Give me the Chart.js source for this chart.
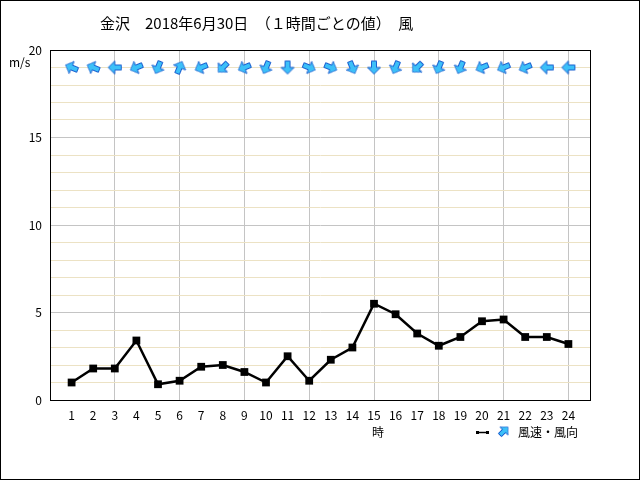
<!DOCTYPE html>
<html>
<head>
<meta charset="utf-8">
<script src="https://cdn.jsdelivr.net/npm/chart.js@4"></script>
<style>
  body { margin: 0; background: #fff; }
  #wrap { width: 640px; height: 480px; }
</style>
</head>
<body>
<div id="wrap"><canvas id="chart" width="640" height="480"></canvas></div>
<script>
// 金沢 2018/6/30 hourly wind
const hours = [1,2,3,4,5,6,7,8,9,10,11,12,13,14,15,16,17,18,19,20,21,22,23,24];
const windSpeed = [1.0,1.8,1.8,3.4,0.9,1.1,1.9,2.0,1.6,1.0,2.5,1.1,2.3,3.0,5.5,4.9,3.8,3.1,3.6,4.5,4.6,3.6,3.6,3.2];
const windDir = ['東南東','東南東','東','東北東','北北東','南南西','東北東','北東','東北東','北北東','北','西北西',
                 '西北西','北北西','北','北北東','北東','北北東','北北東','東北東','東北東','東北東','東','東'];
const yTicks = [0, 5, 10, 15, 20];
const arrowRow = 19;

const compass = ['北','北北東','北東','東北東','東','東南東','南東','南南東','南','南南西','南西','西南西','西','西北西','北西','北北西'];
const FONT = "'Noto Sans CJK JP', 'DejaVu Sans', sans-serif";

// arrow icon, drawn pointing up (north)
function makeArrow() {
  const c = document.createElement('canvas');
  c.width = 16; c.height = 16;
  const g = c.getContext('2d');
  g.beginPath();
  g.moveTo(8, 1.5);
  g.lineTo(14.5, 8);
  g.lineTo(10.5, 8);
  g.lineTo(10.5, 14.5);
  g.lineTo(5.5, 14.5);
  g.lineTo(5.5, 8);
  g.lineTo(1.5, 8);
  g.closePath();
  g.fillStyle = '#3cc0f8';
  g.fill();
  g.strokeStyle = '#1a5fd0';
  g.lineWidth = 1;
  g.stroke();
  return c;
}
const arrow = makeArrow();
// arrow points downwind
const rotations = windDir.map(d => (compass.indexOf(d) * 22.5 + 180) % 360);

const decor = {
  id: 'decor',
  afterDraw(chart) {
    const ctx = chart.ctx;
    const a = chart.chartArea;
    ctx.save();
    ctx.strokeStyle = '#000';
    ctx.lineWidth = 1;
    ctx.strokeRect(a.left + 0.5, a.top + 0.5, a.right - a.left, a.bottom - a.top);
    ctx.strokeRect(0.5, 0.5, 639, 479);

    ctx.fillStyle = '#000';
    ctx.textBaseline = 'middle';
    ctx.font = '15px ' + FONT;
    ctx.fillText('金沢　2018年6月30日　（１時間ごとの値）　風', 100, 23);
    ctx.font = '12px ' + FONT;
    ctx.fillText('m/s', 9, 62);
    ctx.fillText('時', 372, 432);
    ctx.fillText('風速・風向', 518, 432);

    // legend line sample
    ctx.beginPath();
    ctx.moveTo(477, 432.5);
    ctx.lineTo(488, 432.5);
    ctx.lineWidth = 1.5;
    ctx.stroke();
    ctx.fillRect(476, 431, 3, 3);
    ctx.fillRect(486, 431, 3, 3);
    ctx.translate(504, 431);
    ctx.rotate(Math.PI / 4);
    ctx.drawImage(arrow, -7, -7, 14, 14);
    ctx.restore();
  }
};

new Chart(document.getElementById('chart'), {
  type: 'line',
  data: {
    datasets: [{
      label: '風速',
      data: hours.map((h, i) => ({ x: h, y: windSpeed[i] })),
      borderColor: '#000',
      backgroundColor: '#000',
      borderWidth: 2.5,
      pointStyle: 'rect',
      pointRadius: 5.5,
      pointBorderWidth: 0,
      tension: 0
    }, {
      label: '風向',
      data: hours.map(h => ({ x: h, y: arrowRow })),
      showLine: false,
      pointStyle: arrow,
      pointRotation: rotations
    }]
  },
  plugins: [decor],
  options: {
    responsive: false,
    animation: false,
    layout: { padding: { top: 50, right: 50, left: 0, bottom: 0 } },
    plugins: { legend: { display: false }, tooltip: { enabled: false } },
    scales: {
      x: {
        type: 'linear',
        min: 0,
        max: 25,
        afterFit: s => { s.height = 80; },
        ticks: {
          stepSize: 1,
          autoSkip: false,
          maxRotation: 0,
          padding: 8,
          color: '#000',
          font: { family: FONT, size: 12 },
          callback: v => hours.includes(v) ? String(v) : ''
        },
        grid: {
          drawTicks: false,
          color: c => (c.tick.value % 3 === 0 && c.tick.value > 0 && c.tick.value < 25) ? '#c4c4c4' : 'rgba(0,0,0,0)',
          lineWidth: 1
        },
        border: { color: '#000' }
      },
      y: {
        min: 0,
        max: 20,
        afterFit: s => { s.width = 50; },
        ticks: {
          stepSize: 1,
          autoSkip: false,
          padding: 8,
          color: '#000',
          font: { family: FONT, size: 12 },
          callback: v => yTicks.includes(v) ? String(v) : ''
        },
        grid: {
          drawTicks: false,
          color: c => c.tick.value % 5 === 0 ? '#c4c4c4' : '#ece2c4',
          lineWidth: 1
        },
        border: { color: '#000' }
      }
    }
  }
});
</script>
</body>
</html>
